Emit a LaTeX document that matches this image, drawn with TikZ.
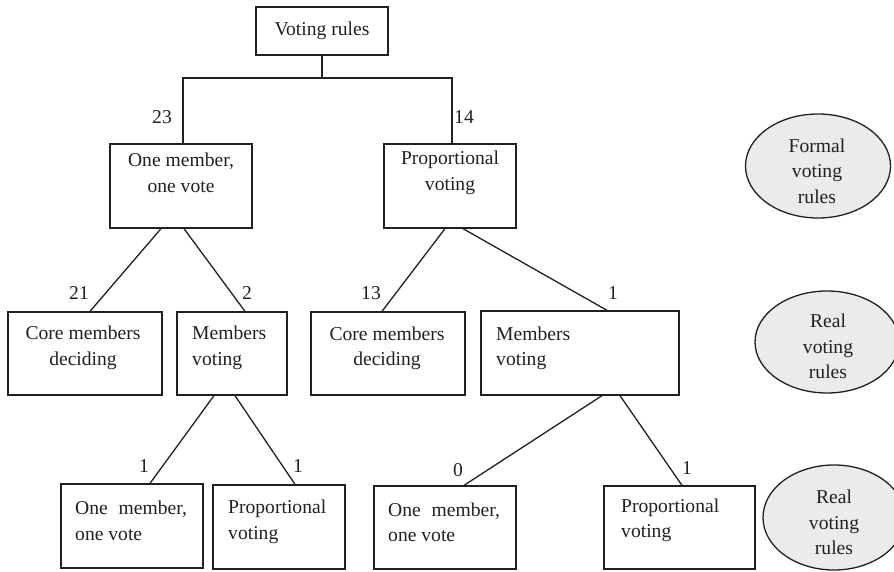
\documentclass[tikz,border=0pt]{standalone}
\usepackage{fontspec}
\setmainfont{Liberation Serif}
\usetikzlibrary{shapes.geometric,calc}
\definecolor{ink}{HTML}{231F20}
\definecolor{ellfill}{HTML}{EBEBEB}
\begin{document}
\begin{tikzpicture}[x=1pt,y=-1pt,
  every node/.style={font=\fontsize{19.6}{25.5}\selectfont, text=ink, inner sep=0pt},
  box/.style={draw=ink, line width=1.3pt, rectangle, minimum height=84pt},
  conn/.style={draw=ink, line width=1.3pt},
  ell/.style={draw=ink, line width=1.3pt, ellipse, fill=ellfill},
  ctxt/.style={align=center},
  ltxt/.style={align=left, anchor=west},
  lbl/.style={}]
\useasboundingbox (0,0) rectangle (894,572);
\clip (0,0) rectangle (894,572);

% boxes
\node[box, minimum width=132pt, minimum height=48pt] (vr) at (322,31) {Voting rules};
\node[box, minimum width=142pt] (omov) at (181,186) {};
\node[box, minimum width=132pt] (prop) at (450,186) {};
\node[box, minimum width=154pt, minimum height=83pt] (cmd1) at (85,353.5) {};
\node[box, minimum width=110pt, minimum height=83pt] (mv1) at (232,353.5) {};
\node[box, minimum width=154pt, minimum height=83pt] (cmd2) at (388,353.5) {};
\node[box, minimum width=198pt] (mv2) at (580,353) {};
\node[box, minimum width=142pt] (omovL) at (132,526) {};
\node[box, minimum width=132pt] (propL) at (279,527) {};
\node[box, minimum width=142pt, minimum height=83pt] (omovR) at (445,527.5) {};
\node[box, minimum width=151pt, minimum height=83pt] (propR) at (679.5,527.5) {};

% box texts
\node[ctxt] (tomov) at (181,173) {One member,\\one vote};
\node[ctxt] (tprop) at (450,173) {Proportional\\voting};
\node[ctxt] (tcmd1) at (83,348) {Core members\\deciding};
\node[ltxt] (tmv1) at (192,348) {Members\\voting};
\node[ctxt] (tcmd2) at (387,348.5) {Core members\\deciding};
\node[ltxt] (tmv2) at (496,348.5) {Members\\voting};
\node[ltxt] (tomovL) at (75,521) {One\hspace{0.55em}member,\\one vote};
\node[ltxt] (tpropL) at (228,522) {Proportional\\voting};
\node[ltxt] (tomovR) at (388,522.5) {One\hspace{0.55em}member,\\one vote};
\node[ltxt] (tpropR) at (621,520.5) {Proportional\\voting};

% ellipses
\node[ell, minimum width=145pt, minimum height=104pt] (formal) at (818,166) {};
\node[ctxt] (tformal) at (817,171) {Formal\\voting\\rules};
\node[ell, minimum width=144pt, minimum height=102pt] (real1) at (827,342) {};
\node[ctxt] (treal1) at (828,346.5) {Real\\voting\\rules};
\node[ell, minimum width=142pt, minimum height=105pt] (real2) at (834,517.5) {};
\node[ctxt] (treal2) at (834,522.5) {Real\\voting\\rules};

% top tree
\coordinate (j) at (322,78);
\draw[conn] (vr.south) -- (j);
\draw[conn] ([xshift=2pt]omov.north) |- (j) -| ([xshift=2pt]prop.north);

% diagonal connectors
\draw[conn] ([xshift=-20pt]omov.south) -- ([xshift=5pt]cmd1.north);
\draw[conn] ([xshift=3pt]omov.south) -- ([xshift=13pt]mv1.north);
\draw[conn] ([xshift=-5pt]prop.south) -- ([xshift=-6pt]cmd2.north);
\draw[conn] ([xshift=13pt]prop.south) -- ([xshift=27pt]mv2.north);
\draw[conn] ([xshift=-18pt]mv1.south) -- ([xshift=18pt]omovL.north);
\draw[conn] ([xshift=3pt]mv1.south) -- ([xshift=16pt]propL.north);
\draw[conn] ([xshift=22pt]mv2.south) -- ([xshift=19pt]omovR.north);
\draw[conn] ([xshift=40pt]mv2.south) -- ([xshift=2.5pt]propR.north);

% counts
\node[lbl] (n23) at (162,117) {23};
\node[lbl] (n14) at (464,117) {14};
\node[lbl] (n21) at (79,293) {21};
\node[lbl] (n2) at (247,293) {2};
\node[lbl] (n13) at (371,293) {13};
\node[lbl] (n1a) at (613,293) {1};
\node[lbl] (n1b) at (144,466) {1};
\node[lbl] (n1c) at (298,466) {1};
\node[lbl] (n0) at (458,470) {0};
\node[lbl] (n1d) at (687,468) {1};
\end{tikzpicture}
\end{document}
